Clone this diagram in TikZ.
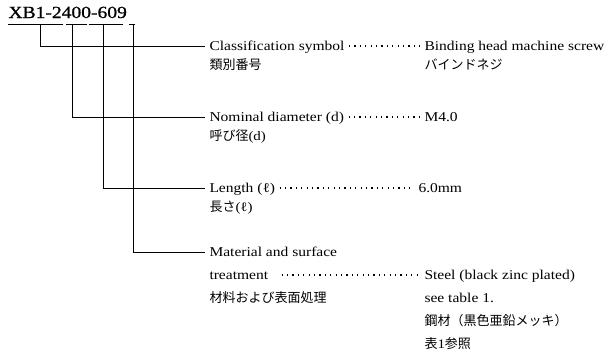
\documentclass[tikz,border=0pt]{standalone}
\usepackage{fontspec}
\setmainfont{Liberation Serif}[FakeStretch=1.15]
\newfontfamily\jpfont{Noto Sans CJK JP}
\newfontfamily\codefont{Liberation Serif}[FakeStretch=1.15, FakeBold=0.8]
\usetikzlibrary{positioning}
\begin{document}
\begin{tikzpicture}[x=1pt, y=-1pt, line width=1pt,
    en/.style={anchor=base west, inner ysep=0pt, inner xsep=4pt, text height=10pt, text depth=2pt,
      font=\fontsize{13.5}{16}\selectfont},
    jp/.style={anchor=base west, inner sep=0pt, font=\fontsize{13}{16}\selectfont\jpfont},
    leader/.style={line width=1.1pt, dash pattern=on 1.2pt off 4.2pt},
    codetext/.style={anchor=base west, inner sep=0pt, font=\fontsize{17}{20}\selectfont\codefont}]
  \useasboundingbox (0,0) rectangle (610,359);
  % part number and its underlines
  \node[codetext] (code) at (8,18) {XB1-2400-609};
  \foreach \a/\b in {8/63, 66/87, 89/123, 129/135}
    \draw (\a,24) -- (\b,24);
  \foreach \n/\x in {t1/40, t2/72, t3/103, t4/133}
    \coordinate (\n) at (\x,24);
  % labels
  \node[en] (cls) at (205,50) {Classification symbol};
  \node[jp] (clsjp) at (209,69) {類別番号};
  \node[en] (clsv) at (420,50) {Binding head machine screw};
  \node[jp] (clsvjp) at (424,69) {バインドネジ};
  \node[en] (dia) at (205,121) {Nominal diameter (d)};
  \node[jp] (diajp) at (209,140) {呼び径{\rmfamily(d)}};
  \node[en] (diav) at (420,121) {M4.0};
  \node[en] (len) at (205,192) {Length (ℓ)};
  \node[jp] (lenjp) at (209,211) {長さ{\rmfamily(ℓ)}};
  \node[en] (lenv) at (414,192) {6.0mm};
  \node[en] (mat) at (205,256) {Material and surface};
  \node[en] (trt) at (205,279) {treatment};
  \node[jp] (matjp) at (209,302) {材料および表面処理};
  \node[en] (matv) at (420,279) {Steel (black zinc plated)};
  \node[en] (matv2) at (420,302) {see table 1.};
  \node[jp] (matv3) at (424,325) {鋼材（黒色亜鉛メッキ）};
  \node[jp] (matv4) at (424,348) {表{\rmfamily 1}参照};
  % brackets
  \draw (t1) |- (cls.west);
  \draw (t2) |- (dia.west);
  \draw (t3) |- (len.west);
  \draw (t4) |- (mat.west);
  % dotted leaders
  \draw[leader] (cls.east) -- (clsv.west);
  \draw[leader] (dia.east) -- (diav.west);
  \draw[leader] (len.east) -- (lenv.west);
  \draw[leader] ([xshift=9pt]trt.east) -- (matv.west);
\end{tikzpicture}
\end{document}
